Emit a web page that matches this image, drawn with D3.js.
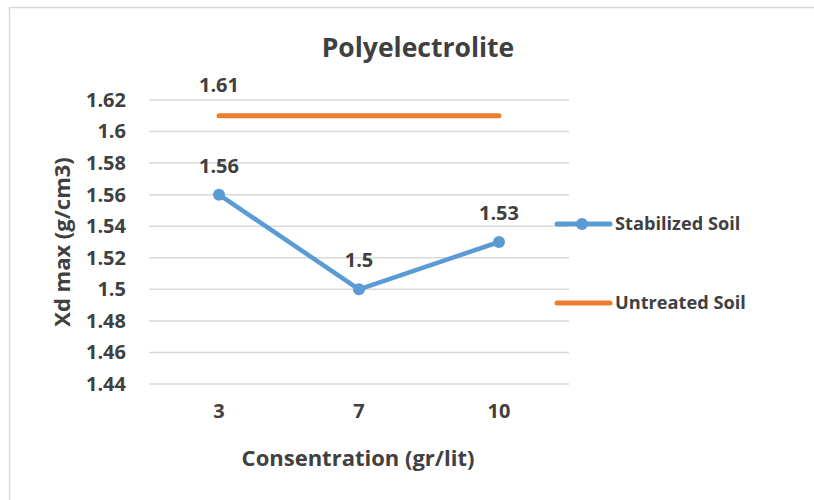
<!DOCTYPE html>
<html lang="en">
<head>
<meta charset="UTF-8">
<title>Polyelectrolite</title>
<style>
  body { margin: 0; background: #fff; }
  text { font-family: 'Open Sans', sans-serif; font-weight: bold; fill: #404040; }
  .grid line { stroke: #d9d9d9; stroke-width: 1.5; }
</style>
</head>
<body>
<svg id="chart" width="814" height="500"></svg>
<script src="https://d3js.org/d3.v7.min.js"></script>
<script>
  // data
  const concentrations = ["3", "7", "10"];
  const stabilized = [1.56, 1.5, 1.53];
  const untreated = [1.61, 1.61, 1.61];
  const yTicks = [1.44, 1.46, 1.48, 1.5, 1.52, 1.54, 1.56, 1.58, 1.6, 1.62];

  const svg = d3.select("#chart");
  const blue = "#5b9bd5", orange = "#ed7d31";

  // outer border
  svg.append("rect")
    .attr("x", 9.5).attr("y", 7.5).attr("width", 810).attr("height", 500)
    .attr("fill", "none").attr("stroke", "#d9d9d9").attr("stroke-width", 1.5);

  const x = d3.scaleBand().domain(concentrations).range([149, 569]);
  const y = d3.scaleLinear().domain([1.44, 1.62]).range([384, 100]);
  const cx = d => x(d) + x.bandwidth() / 2;

  // gridlines
  svg.append("g").attr("class", "grid")
    .selectAll("line").data(yTicks).enter().append("line")
    .attr("x1", 149).attr("x2", 569)
    .attr("y1", d => y(d)).attr("y2", d => y(d));

  // y axis labels
  const yAxis = svg.append("g")
    .attr("transform", "translate(126,0)")
    .call(d3.axisLeft(y).tickValues(yTicks).tickSize(0).tickPadding(0).tickFormat(d => d3.format("")(+d.toFixed(2))));
  yAxis.select(".domain").remove();
  yAxis.selectAll("text").style("font-size", "20px").attr("fill", "#404040");

  // x axis labels
  const xAxis = svg.append("g")
    .attr("transform", "translate(0,404)")
    .call(d3.axisBottom(x).tickSize(0).tickPadding(0));
  xAxis.select(".domain").remove();
  xAxis.selectAll("text").style("font-size", "20px").attr("fill", "#404040");

  // untreated soil line
  const line = d3.line().x((d, i) => cx(concentrations[i])).y(d => y(d));
  svg.append("path").datum(untreated)
    .attr("d", line).attr("fill", "none")
    .attr("stroke", orange).attr("stroke-width", 5).attr("stroke-linecap", "round");

  // stabilized soil line
  svg.append("path").datum(stabilized)
    .attr("d", line).attr("fill", "none")
    .attr("stroke", blue).attr("stroke-width", 4.5).attr("stroke-linecap", "round")
    .attr("stroke-linejoin", "round");
  svg.selectAll(".pt").data(stabilized).enter().append("circle")
    .attr("cx", (d, i) => cx(concentrations[i])).attr("cy", d => y(d))
    .attr("r", 6).attr("fill", blue);

  // data labels
  svg.selectAll(".lblS").data(stabilized).enter().append("text")
    .attr("x", (d, i) => cx(concentrations[i])).attr("y", d => y(d) - 22)
    .attr("text-anchor", "middle").style("font-size", "20px")
    .text(d => d);
  svg.append("text")
    .attr("x", cx(concentrations[0])).attr("y", y(untreated[0]) - 24)
    .attr("text-anchor", "middle").style("font-size", "20px")
    .text(untreated[0]);

  // title
  svg.append("text").attr("x", 418).attr("y", 57)
    .attr("text-anchor", "middle").style("font-size", "26.5px")
    .text("Polyelectrolite");

  // axis titles
  svg.append("text").attr("x", 358).attr("y", 466)
    .attr("text-anchor", "middle").style("font-size", "22px")
    .text("Consentration (gr/lit)");
  svg.append("text")
    .attr("transform", "translate(70,242) rotate(-90)")
    .attr("text-anchor", "middle").style("font-size", "22px")
    .text("Xd max (g/cm3)");

  // legend
  const legend = [
    { name: "Stabilized Soil", color: blue, marker: true, y: 224 },
    { name: "Untreated Soil", color: orange, marker: false, y: 303 }
  ];
  const lg = svg.selectAll(".legend").data(legend).enter().append("g")
    .attr("transform", d => `translate(0,${d.y})`);
  lg.append("line").attr("x1", 557).attr("x2", 610)
    .attr("stroke", d => d.color).attr("stroke-width", 5).attr("stroke-linecap", "round");
  lg.filter(d => d.marker).append("circle").attr("cx", 582).attr("r", 6).attr("fill", d => d.color);
  lg.append("text").attr("x", 615).attr("dy", "0.35em").style("font-size", "18.2px")
    .text(d => d.name);
</script>
</body>
</html>
